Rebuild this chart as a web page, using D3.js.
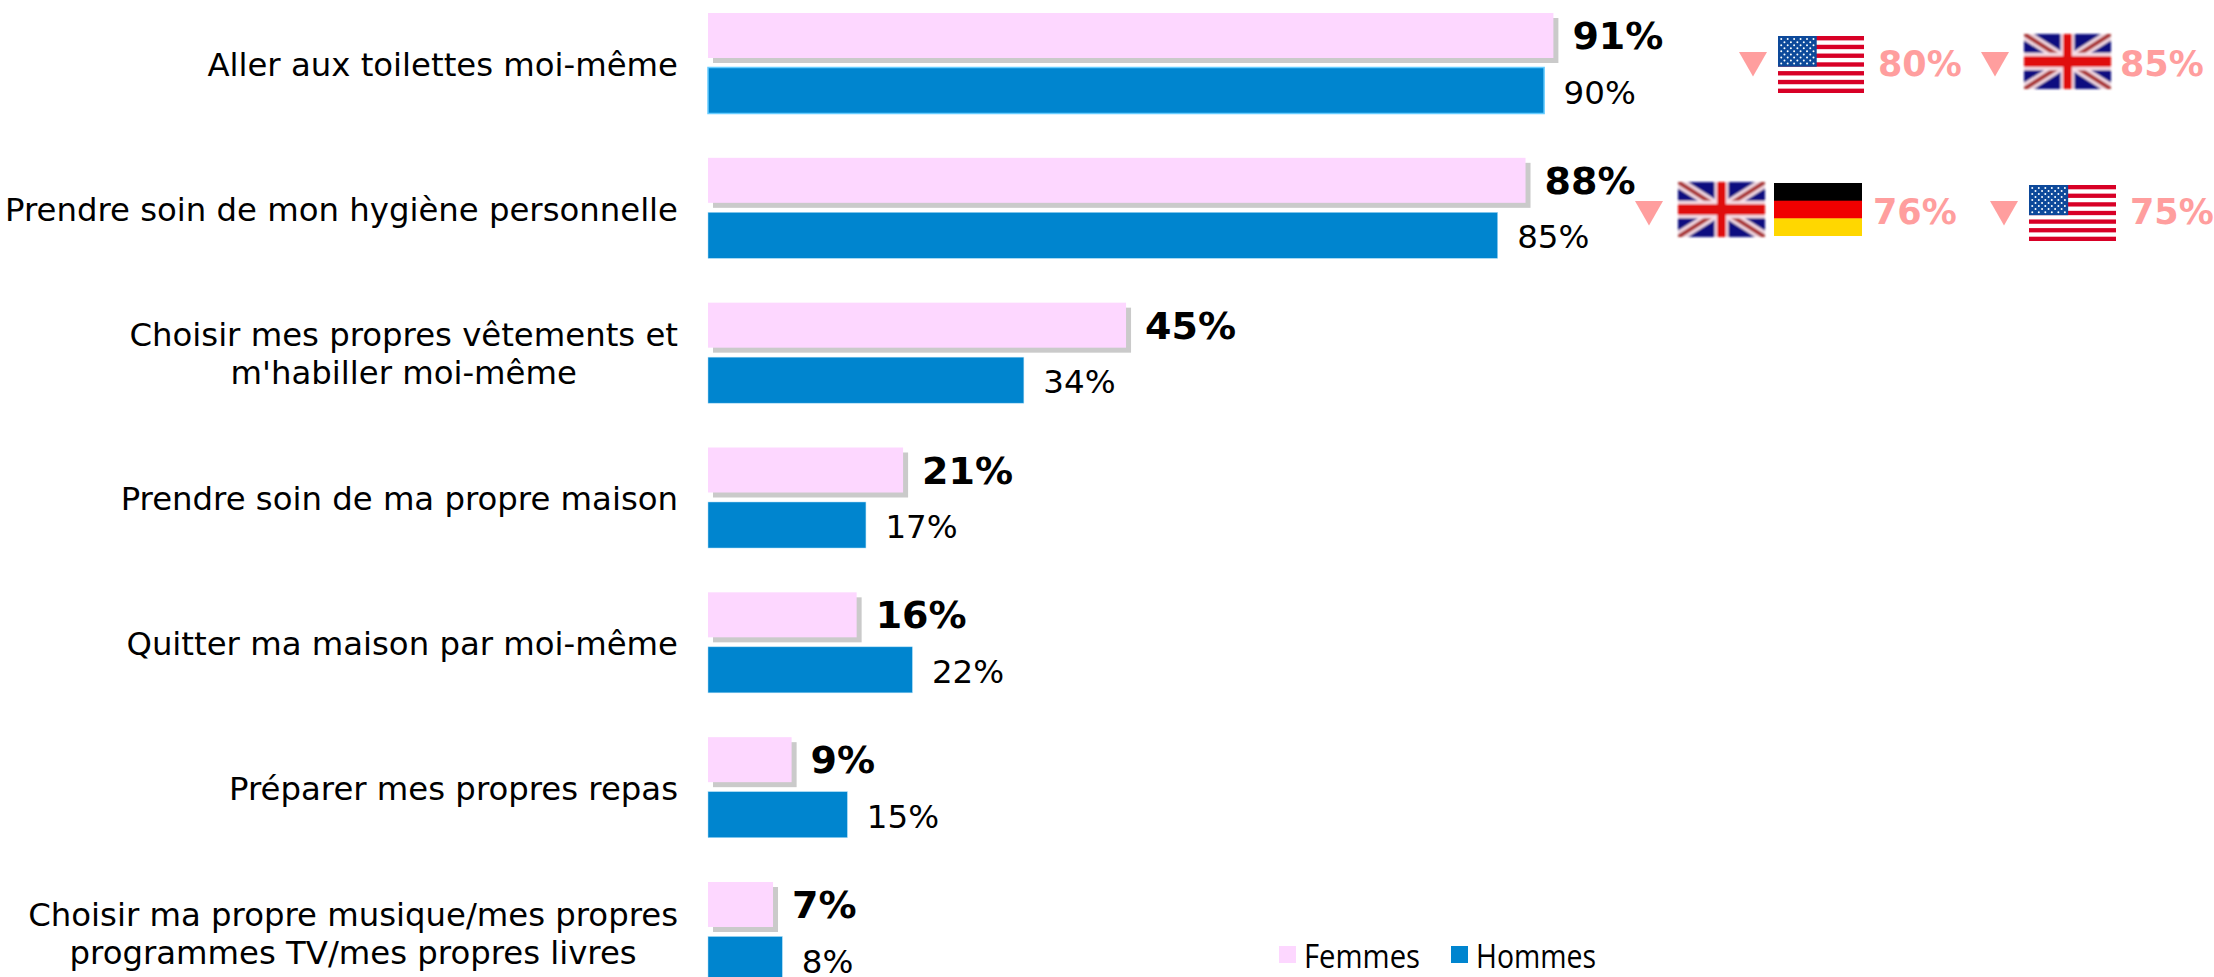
<!DOCTYPE html>
<html><head><meta charset="utf-8">
<script src="https://cdn.jsdelivr.net/npm/d3@7"></script>
<style>html,body{margin:0;padding:0;background:#fff;overflow:hidden}svg{display:block}text{font-family:"DejaVu Sans",sans-serif}</style>
</head><body><svg id="c" width="2214" height="977"></svg>
<script>
const categories=[["Aller aux toilettes moi-même"],["Prendre soin de mon hygiène personnelle"],["Choisir mes propres vêtements et","m'habiller moi-même"],["Prendre soin de ma propre maison"],["Quitter ma maison par moi-même"],["Préparer mes propres repas"],["Choisir ma propre musique/mes propres","programmes TV/mes propres livres"]];
const femmes=[91,88,45,21,16,9,7];
const hommes=[90,85,34,17,22,15,8];
const seriesNames=["Femmes","Hommes"];
const colors=["#FDD7FF","#0085CF"];
const callouts=[
 {row:0,tri:1753,items:[["us",1778,36,86,57]],text:"80%",tx:1878},
 {row:0,tri:1995,items:[["uk",2024,34,87,55]],text:"85%",tx:2120},
 {row:1,tri:1649,items:[["uk",1678,182,87,55],["de",1774,183,88,53]],text:"76%",tx:1873},
 {row:1,tri:2004,items:[["us",2029,185,87,56]],text:"75%",tx:2130}
];
const svg=d3.select("#c");
const defs=svg.append("defs");
defs.append("filter").attr("id","soft").append("feGaussianBlur").attr("stdDeviation",0.6);
defs.append("filter").attr("id","softer").append("feGaussianBlur").attr("stdDeviation",0.9);
defs.append("filter").attr("id","soft2").attr("x","-5%").attr("y","-20%").attr("width","110%").attr("height","140%").append("feGaussianBlur").attr("stdDeviation",0.5);
const x=d3.scaleLinear().domain([0,100]).range([708,1637]);
const y=d3.scalePoint().domain(d3.range(categories.length)).range([13,882]);
const barH=45, blueOff=54.5;
const g=svg.append("g");
g.selectAll("rect.sh").data(femmes).join("rect").attr("class","sh")
 .attr("x",x(0)+5).attr("y",(d,i)=>y(i)+5).attr("width",d=>x(d)-x(0)).attr("height",barH)
 .attr("fill","#cacaca").attr("filter","url(#soft2)");
g.selectAll("rect.f").data(femmes).join("rect").attr("class","f")
 .attr("x",x(0)).attr("y",(d,i)=>y(i)).attr("width",d=>x(d)-x(0)).attr("height",barH).attr("fill",colors[0]);
g.selectAll("rect.h").data(hommes).join("rect").attr("class","h")
 .attr("x",x(0)).attr("y",(d,i)=>y(i)+blueOff).attr("width",d=>x(d)-x(0)).attr("height",barH+1).attr("fill",colors[1])
 .attr("stroke",(d,i)=>i==0?"#66CCFF":"#A8DCF5").attr("stroke-width",(d,i)=>i==0?1.5:0.5);
g.selectAll("text.fv").data(femmes).join("text").attr("class","fv")
 .attr("x",d=>x(d)+19).attr("y",(d,i)=>y(i)+36).attr("font-size",38).attr("font-weight","bold").attr("fill","#000").text(d=>d+"%");
g.selectAll("text.hv").data(hommes).join("text").attr("class","hv")
 .attr("x",d=>x(d)+19.5).attr("y",(d,i)=>y(i)+blueOff+36).attr("font-size",32.5).attr("fill","#000").text(d=>d+"%");
const lab=g.selectAll("text.cat").data(categories).join("text").attr("class","cat").attr("text-anchor","end").attr("font-size",32.35).attr("fill","#000");
lab.each(function(d,i){
  const t=d3.select(this), c=y(i)+52;
  d.forEach((l,j)=>t.append("tspan").attr("x",678).attr("y",c+10.7+(j-(d.length-1)/2)*38).text(l));
});
lab.each(function(d){ if(d.length>1){ const s=d3.select(this).selectAll("tspan").nodes();
  const w0=s[0].getComputedTextLength(), w1=s[1].getComputedTextLength();
  d3.select(s[1]).attr("x",678-(w0-w1)/2);
}});
let clipN=0;
function flag(kind,fx,fy,w,h){
  const f=svg.append("g").attr("transform",`translate(${fx},${fy})`).attr("filter",kind=="uk"?"url(#softer)":"url(#soft)");
  if(kind=="us"){
    const n=13,sh=h/n;
    f.append("rect").attr("width",w).attr("height",h).attr("fill","#fff");
    d3.range(0,13,2).forEach(i=>f.append("rect").attr("y",i*sh).attr("width",w).attr("height",sh).attr("fill","#D80027"));
    const cw=w*0.45,ch=sh*7;
    f.append("rect").attr("width",cw).attr("height",ch).attr("fill","#0A4A9A");
    for(let r=0;r<9;r++){const cols=r%2?5:6;for(let c=0;c<cols;c++){
      f.append("circle").attr("cx",cw*((r%2?2:1)+2*c)/12).attr("cy",ch*(r+1)/10).attr("r",1).attr("fill","#fff");}}
  } else if(kind=="uk"){
    const id="cp"+(clipN++);
    f.append("clipPath").attr("id",id).append("rect").attr("width",w).attr("height",h);
    const u=f.append("g").attr("clip-path",`url(#${id})`);
    u.append("rect").attr("width",w).attr("height",h).attr("fill","#0A0A80");
    [[0,0,w,h],[0,h,w,0]].forEach(l=>{
      u.append("line").attr("x1",l[0]).attr("y1",l[1]).attr("x2",l[2]).attr("y2",l[3]).attr("stroke","#F5DDE5").attr("stroke-width",h*0.19);
      u.append("line").attr("x1",l[0]).attr("y1",l[1]).attr("x2",l[2]).attr("y2",l[3]).attr("stroke","#A83030").attr("stroke-width",h*0.08);
    });
    u.append("rect").attr("x",w*0.42).attr("width",w*0.16).attr("height",h).attr("fill","#F5DDE5");
    u.append("rect").attr("y",h*0.34).attr("width",w).attr("height",h*0.32).attr("fill","#F5DDE5");
    u.append("rect").attr("x",w*0.45).attr("width",w*0.1).attr("height",h).attr("fill","#E01010");
    u.append("rect").attr("y",h*0.4).attr("width",w).attr("height",h*0.2).attr("fill","#E01010");
  } else {
    ["#000","#F00000","#FFD700"].forEach((c,i)=>f.append("rect").attr("y",i*h/3).attr("width",w).attr("height",h/3+(i<2?0.5:0)).attr("fill",c));
  }
}
callouts.forEach(c=>{
  const ty=c.row==0?52:201;
  svg.append("path").attr("d",d3.line()([[c.tri-14,ty],[c.tri+14,ty],[c.tri,ty+24.5]])+"Z").attr("fill","#FF9E9E");
  c.items.forEach(a=>flag(...a));
  svg.append("text").attr("x",c.tx).attr("y",c.row==0?76:224).attr("font-size",35).attr("font-weight","bold").attr("fill","#FF9E9E").text(c.text);
});
[[1279,1304,116],[1451,1476,120]].forEach((p,i)=>{
  svg.append("rect").attr("x",p[0]).attr("y",946).attr("width",17).attr("height",17).attr("fill",colors[i]);
  svg.append("text").attr("x",p[1]).attr("y",968).attr("font-size",32).attr("textLength",p[2]).attr("lengthAdjust","spacingAndGlyphs")
   .style("font-family","'Open Sans',sans-serif").attr("fill","#000").text(seriesNames[i]);
});
</script></body></html>
